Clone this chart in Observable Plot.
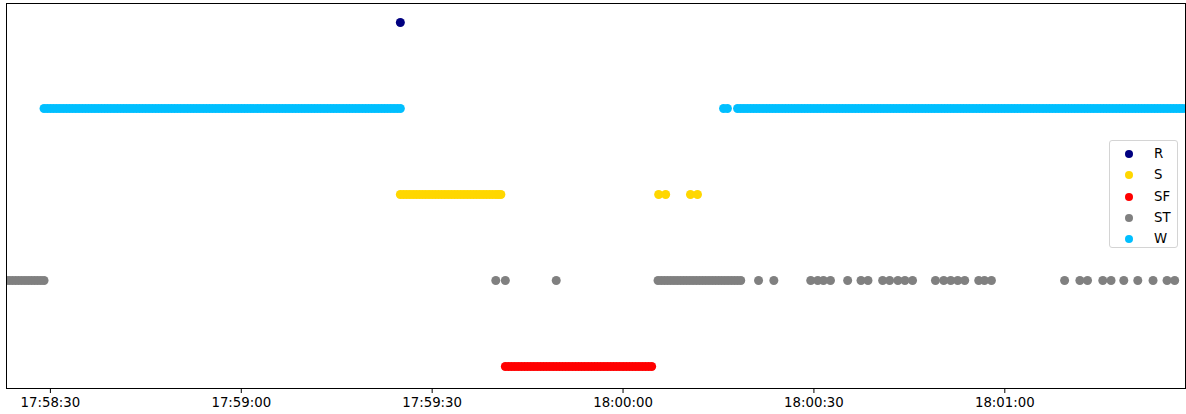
<!DOCTYPE html>
<html>
<head>
<meta charset="utf-8">
<script src="https://cdn.jsdelivr.net/npm/d3@7"></script>
<script src="https://cdn.jsdelivr.net/npm/@observablehq/plot@0.6"></script>
<style>
  body { margin: 0; background: #fff; }
  #wrap { position: relative; width: 1186px; height: 414px; font-family: "DejaVu Sans", sans-serif; }
  #legend { position: absolute; left: 1109px; top: 140px; width: 69px; height: 108px;
            border: 1px solid #d4d4d4; border-radius: 3px; background: rgba(255,255,255,0.8);
            box-sizing: border-box; font-size: 13.3px; color: #000; }
  .row { position: absolute; left: 0; height: 20px; line-height: 20px; }
  .sw { position: absolute; left: 15px; top: 6px; width: 8px; height: 8px; border-radius: 50%; }
  .lab { position: absolute; left: 44px; top: 0; white-space: nowrap; }
</style>
</head>
<body>
<div id="wrap"></div>
<script>
// times in seconds after 17:58:00
const categories = ["R", "W", "S", "ST", "SF"];
const legendOrder = ["R", "S", "SF", "ST", "W"];
const colors = {R: "#000080", S: "#FFD700", SF: "#FF0000", ST: "#808080", W: "#00BFFF"};

const R_times = [85];
const W_times = [
  29,29.5,30,30.5,31,31.5,32,32.5,33,33.5,34,34.5,35,35.5,36,36.5,37,37.5,38,38.5,39,39.5,40,40.5,
  41,41.5,42,42.5,43,43.5,44,44.5,45,45.5,46,46.5,47,47.5,48,48.5,49,49.5,50,50.5,51,51.5,52,52.5,
  53,53.5,54,54.5,55,55.5,56,56.5,57,57.5,58,58.5,59,59.5,60,60.5,61,61.5,62,62.5,63,63.5,64,64.5,
  65,65.5,66,66.5,67,67.5,68,68.5,69,69.5,70,70.5,71,71.5,72,72.5,73,73.5,74,74.5,75,75.5,76,76.5,
  77,77.5,78,78.5,79,79.5,80,80.5,81,81.5,82,82.5,83,83.5,84,84.5,85,
  135.8,136.4,
  138,138.5,139,139.5,140,140.5,141,141.5,142,142.5,143,143.5,144,144.5,145,145.5,146,146.5,147,147.5,
  148,148.5,149,149.5,150,150.5,151,151.5,152,152.5,153,153.5,154,154.5,155,155.5,156,156.5,157,157.5,
  158,158.5,159,159.5,160,160.5,161,161.5,162,162.5,163,163.5,164,164.5,165,165.5,166,166.5,167,167.5,
  168,168.5,169,169.5,170,170.5,171,171.5,172,172.5,173,173.5,174,174.5,175,175.5,176,176.5,177,177.5,
  178,178.5,179,179.5,180,180.5,181,181.5,182,182.5,183,183.5,184,184.5,185,185.5,186,186.5,187,187.5,
  188,188.5,189,189.5,190,190.5,191,191.5,192,192.5,193,193.5,194,194.5,195,195.5,196,196.5,197,197.5,
  198,198.5,199,199.5,200,200.5,201,201.5,202,202.5,203,203.5,204,204.5,205,205.5,206,206.5,207,207.5,
  208,208.5,209];
const S_times = [
  85,85.5,86,86.5,87,87.5,88,88.5,89,89.5,90,90.5,91,91.5,92,92.5,93,93.5,94,94.5,95,95.5,96,96.5,
  97,97.5,98,98.5,99,99.5,100,100.4,100.8,
  125.6,126.7, 130.6,131.7];
const ST_times = [
  23,23.5,24,24.5,25,25.5,26,26.5,27,27.5,28,28.5,29,
  100,101.5, 109.5,
  125.5,126,126.5,127,127.5,128,128.5,129,129.5,130,130.5,131,131.5,132,132.5,133,133.5,134,134.5,
  135,135.5,136,136.5,137,137.5,138,138.5,
  141.3,143.7, 149.5,150.6,151.5,152.6, 155.3, 157.4,158.5,
  160.8,161.9,163.2,164.3,165.5, 169.1,170.4,171.5,172.6,173.7, 175.9,176.8,177.9,
  189.4, 191.8,193.0, 195.4,196.7, 198.7, 200.9, 203.3, 205.5,206.7];
const SF_times = [
  101.5,102,102.5,103,103.5,104,104.5,105,105.5,106,106.5,107,107.5,108,108.5,109,109.5,110,110.5,
  111,111.5,112,112.5,113,113.5,114,114.5,115,115.5,116,116.5,117,117.5,118,118.5,119,119.5,120,120.5,
  121,121.5,122,122.5,123,123.5,124,124.5];
const xDomainSec = [23.1, 208.4];

const base = Date.UTC(2000, 0, 1, 17, 58, 0);
const toDate = s => new Date(base + s * 1000);

const series = {R: R_times, S: S_times, SF: SF_times, ST: ST_times, W: W_times};
const rows = [];
for (const k of legendOrder) for (const s of series[k]) rows.push({t: toDate(s), cat: k});

const chart = Plot.plot({
  width: 1186,
  height: 414,
  marginLeft: 6,
  marginRight: 1,
  marginTop: 3,
  marginBottom: 26,
  style: {fontFamily: "DejaVu Sans, sans-serif", fontSize: "13.3px", color: "#000", background: "#fff"},
  x: {type: "utc", domain: xDomainSec.map(toDate), ticks: d3.utcSecond.every(30),
      tickFormat: d3.utcFormat("%H:%M:%S"), tickSize: 5, tickPadding: 4, label: null},
  y: {type: "point", domain: categories, range: [21, 367], padding: 0, axis: null},
  marks: [
    Plot.dot(rows, {x: "t", y: "cat", r: 4.5, fill: d => colors[d.cat], stroke: "none", clip: true}),
    Plot.frame({stroke: "#000", strokeWidth: 1})
  ]
});
document.getElementById("wrap").appendChild(chart);

const lg = document.createElement("div");
lg.id = "legend";
legendOrder.forEach((k, i) => {
  const r = document.createElement("div");
  r.className = "row";
  r.style.top = (3 + i * 21.3) + "px";
  r.innerHTML = `<span class="sw" style="background:${colors[k]}"></span><span class="lab">${k}</span>`;
  lg.appendChild(r);
});
document.getElementById("wrap").appendChild(lg);
</script>
</body>
</html>
